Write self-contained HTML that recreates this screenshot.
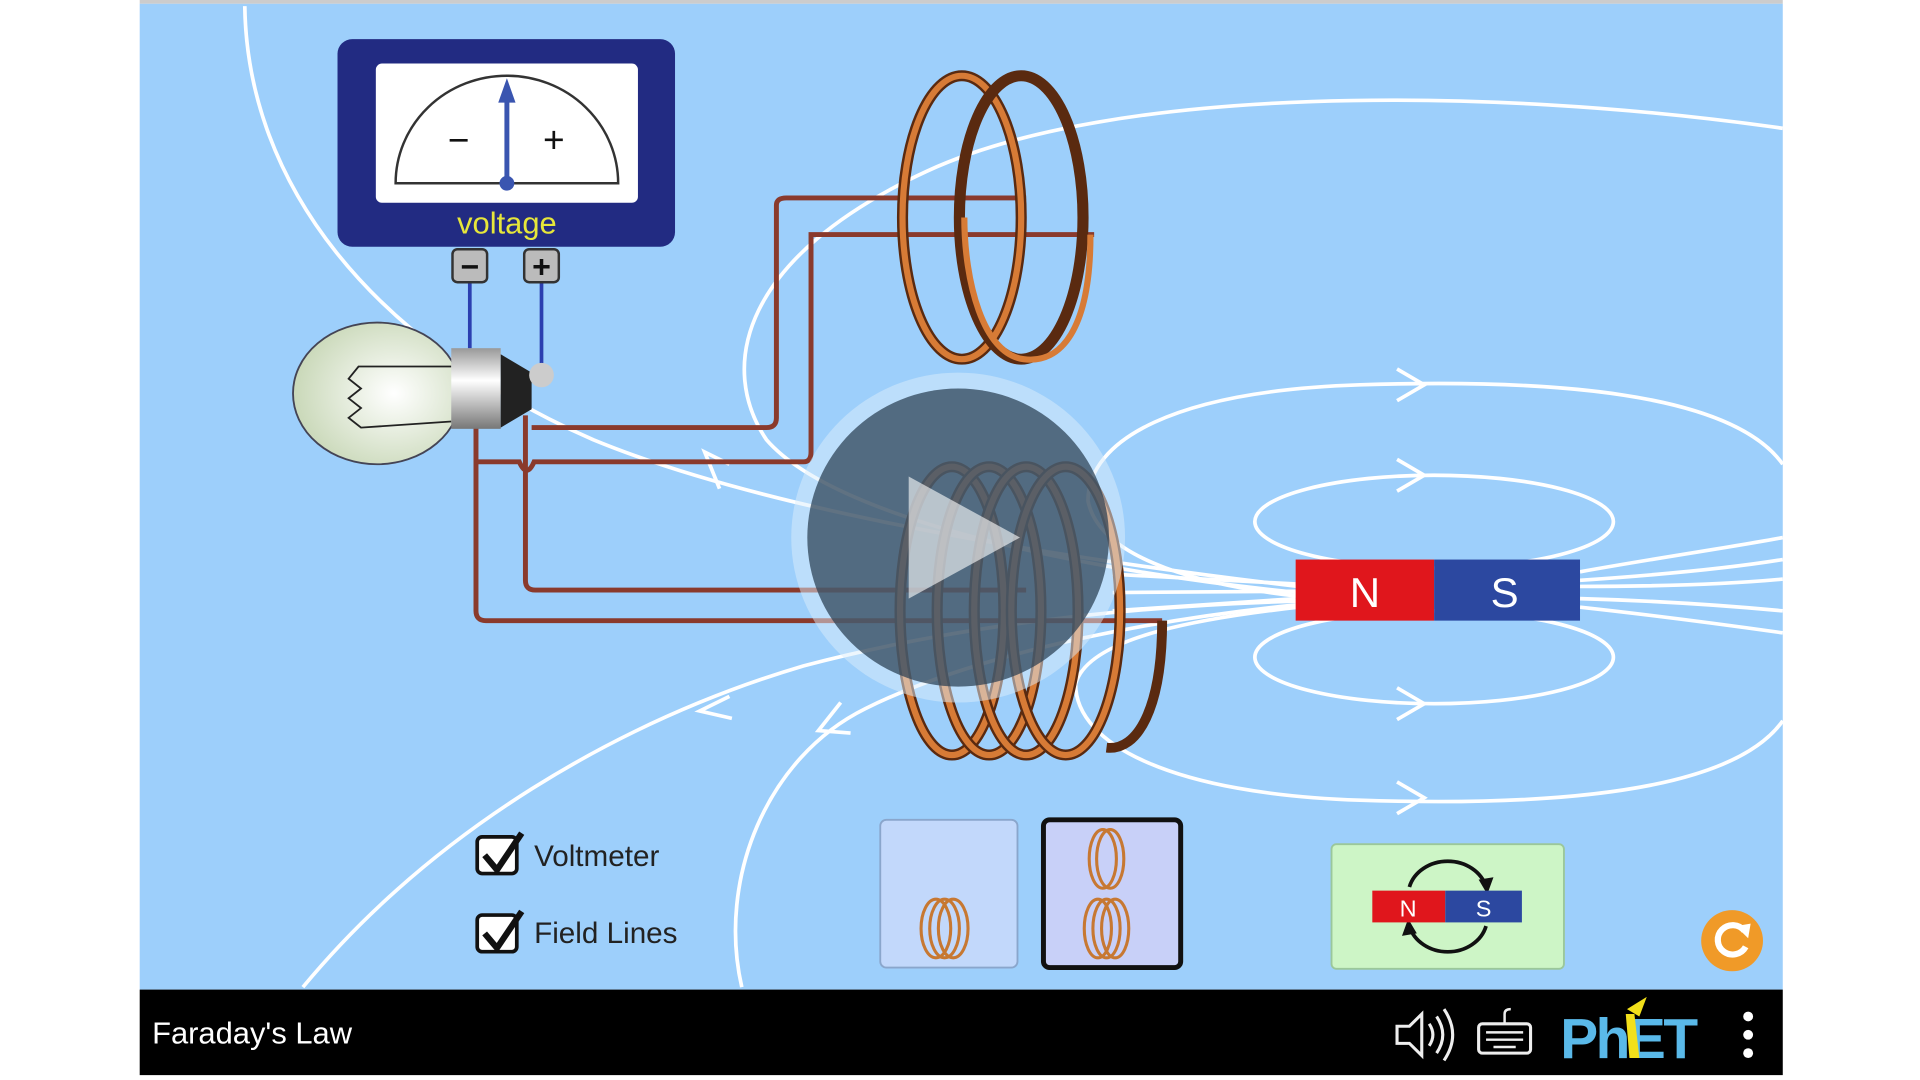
<!DOCTYPE html>
<html><head><meta charset="utf-8"><style>
html,body{margin:0;padding:0;background:#fff;width:1920px;height:1080px;overflow:hidden}
svg{display:block}
text{font-family:"Liberation Sans",sans-serif}
</style></head><body>
<svg width="1920" height="1080" viewBox="0 0 1553 884" preserveAspectRatio="none" xmlns="http://www.w3.org/2000/svg">
<defs>
<radialGradient id="bulb" cx="0.6" cy="0.5" r="0.6"><stop offset="0" stop-color="#ffffff"/><stop offset="1" stop-color="#c9d8b8"/></radialGradient>
<linearGradient id="base" x1="0" y1="0" x2="0" y2="1"><stop offset="0" stop-color="#999"/><stop offset="0.4" stop-color="#fff"/><stop offset="1" stop-color="#777"/></linearGradient>
</defs>
<rect x="113" y="3" width="1329" height="807" fill="#9dcffb"/>
<rect x="113" y="0" width="1329" height="3" fill="#ccc"/>
<g fill="none" stroke="#fff" stroke-width="3">
<path d="M198 5 C200 150 300 280 480 360 C600 410 800 450 1050 480"/>
<path d="M1442 105 C1200 70 900 70 750 140 C600 210 580 300 620 360 C680 430 900 470 1050 485"/>
<ellipse cx="1160" cy="427" rx="145" ry="38"/>
<ellipse cx="1160" cy="538" rx="145" ry="38"/>
<path d="M1442 380 C1400 320 1250 310 1100 315 C950 320 880 360 880 410 C890 460 980 480 1050 488"/>
<path d="M1442 590 C1400 650 1250 660 1100 655 C950 650 870 610 870 560 C880 520 980 505 1050 497"/>
<path d="M245 808 C350 680 500 590 650 545 C800 505 950 495 1050 492"/>
<path d="M600 808 C580 720 620 620 700 580 C800 530 950 505 1050 495"/>
<path d="M1278 475 C1350 470 1400 465 1442 458 M1278 480 C1350 480 1400 478 1442 474 M1278 490 C1350 492 1400 496 1442 500 M1278 497 C1350 505 1400 512 1442 518 M1278 468 C1350 455 1400 448 1442 440"/>
<path d="M900 470 L1048 478 M900 500 L1048 490 M900 485 L1048 484"/>
</g>
<g fill="none" stroke="#fff" stroke-width="3">
<path d="M1130 302 L1152 315 L1130 328"/><path d="M1130 376 L1152 389 L1130 402"/>
<path d="M1130 563 L1152 576 L1130 589"/><path d="M1130 640 L1152 653 L1130 666"/>
<path d="M590 380 L570 370 L582 400"/><path d="M590 570 L566 582 L592 588"/><path d="M680 575 L662 598 L688 600"/>
</g>
<g fill="none" stroke="#8a3a2c" stroke-width="4">
<path d="M430 350 L620 350 Q628 350 628 342 L628 168 Q628 162 636 162 L830 162"/>
<path d="M385 330 L385 500 Q385 508 393 508 L940 508"/>
<path d="M385 378 L420 378 Q426 392 432 378 L650 378 Q656 378 656 370 L656 192 L885 192"/>
<path d="M425 340 L425 475 Q425 483 433 483 L830 483"/>
</g>
<g fill="none" stroke-width="9">
<ellipse cx="778" cy="178" rx="48" ry="116" stroke="#5a2a10"/>
<ellipse cx="778" cy="178" rx="48" ry="116" stroke="#d77b36" stroke-width="5"/>
<ellipse cx="826" cy="178" rx="50" ry="116" stroke="#5a2a10"/>
<path d="M882 192 C882 270 858 298 828 294 C795 290 780 230 780 178" stroke="#d77b36" stroke-width="5"/>
</g>
<g fill="none">
<ellipse cx="770" cy="500" rx="42" ry="118" stroke="#5a2a10" stroke-width="9"/><ellipse cx="770" cy="500" rx="42" ry="118" stroke="#d77b36" stroke-width="5"/>
<ellipse cx="800" cy="500" rx="42" ry="118" stroke="#5a2a10" stroke-width="9"/><ellipse cx="800" cy="500" rx="42" ry="118" stroke="#d77b36" stroke-width="5"/>
<ellipse cx="830" cy="500" rx="42" ry="118" stroke="#5a2a10" stroke-width="9"/><ellipse cx="830" cy="500" rx="42" ry="118" stroke="#d77b36" stroke-width="5"/>
<ellipse cx="862" cy="500" rx="44" ry="118" stroke="#5a2a10" stroke-width="9"/><ellipse cx="862" cy="500" rx="44" ry="118" stroke="#d77b36" stroke-width="5"/>
<path d="M940 508 C940 580 920 615 895 612" stroke="#5a2a10" stroke-width="8"/>
</g>
<circle cx="775" cy="440" r="135" fill="#dceefc" opacity="0.5"/>
<circle cx="775" cy="440" r="122" fill="#2a3f52" opacity="0.72"/>
<path d="M735 390 L825 440 L735 490 Z" fill="#ffffff" opacity="0.6"/>
<rect x="273" y="32" width="273" height="170" rx="12" fill="#222b82"/>
<rect x="304" y="52" width="212" height="114" rx="5" fill="#fff"/>
<path d="M320 150 A90 88 0 0 1 500 150 Z" fill="#fff" stroke="#333" stroke-width="2"/>
<text x="371" y="125" font-size="30" text-anchor="middle" fill="#111">−</text>
<text x="448" y="125" font-size="30" text-anchor="middle" fill="#111">+</text>
<line x1="410" y1="150" x2="410" y2="80" stroke="#3a55b0" stroke-width="4"/>
<path d="M403 84 L410 64 L417 84 Z" fill="#3a55b0"/>
<circle cx="410" cy="150" r="6" fill="#3a55b0"/>
<text x="410" y="191" font-size="25" text-anchor="middle" fill="#e6e63a">voltage</text>
<line x1="380" y1="230" x2="380" y2="285" stroke="#2b3fb0" stroke-width="3"/>
<line x1="438" y1="230" x2="438" y2="305" stroke="#2b3fb0" stroke-width="3"/>
<rect x="366" y="204" width="28" height="27" rx="4" fill="#bbb" stroke="#333" stroke-width="2"/>
<rect x="424" y="204" width="28" height="27" rx="4" fill="#bbb" stroke="#333" stroke-width="2"/>
<text x="380" y="227" font-size="26" text-anchor="middle" font-weight="bold" fill="#111">−</text>
<text x="438" y="227" font-size="26" text-anchor="middle" font-weight="bold" fill="#111">+</text>
<ellipse cx="305" cy="322" rx="68" ry="58" fill="url(#bulb)" stroke="#445" stroke-width="1.5"/>
<path d="M365 300 L290 300 L282 310 L292 318 L282 326 L292 334 L282 342 L292 350 L365 345" fill="none" stroke="#222" stroke-width="1.5"/>
<rect x="365" y="285" width="40" height="66" fill="url(#base)"/>
<path d="M405 290 L430 305 L430 335 L405 350 Z" fill="#222"/>
<circle cx="438" cy="307" r="10" fill="#ccc"/>
<rect x="1048" y="458" width="112" height="50" fill="#e0161c"/>
<rect x="1160" y="458" width="118" height="50" fill="#2c48a0"/>
<text x="1104" y="497" font-size="34" text-anchor="middle" fill="#fff">N</text>
<text x="1217" y="497" font-size="34" text-anchor="middle" fill="#fff">S</text>
<rect x="386" y="685" width="32" height="30" rx="4" fill="#fff" stroke="#111" stroke-width="3"/>
<path d="M392 700 L402 712 L422 682" fill="none" stroke="#111" stroke-width="5"/>
<text x="432" y="709" font-size="24" fill="#222">Voltmeter</text>
<rect x="386" y="749" width="32" height="30" rx="4" fill="#fff" stroke="#111" stroke-width="3"/>
<path d="M392 764 L402 776 L422 746" fill="none" stroke="#111" stroke-width="5"/>
<text x="432" y="772" font-size="24" fill="#222">Field Lines</text>
<rect x="712" y="671" width="111" height="121" rx="5" fill="#c2d8fb" stroke="#8aa6cc" stroke-width="1.5"/>
<g fill="none" stroke="#c77832" stroke-width="2.5">
<ellipse cx="757" cy="760" rx="12" ry="24"/><ellipse cx="764" cy="760" rx="12" ry="24"/><ellipse cx="771" cy="760" rx="12" ry="24"/>
</g>
<rect x="844" y="671" width="111" height="121" rx="5" fill="#c8d0f8" stroke="#111" stroke-width="4"/>
<g fill="none" stroke="#c77832" stroke-width="2.5">
<ellipse cx="892" cy="703" rx="11" ry="24"/><ellipse cx="898" cy="703" rx="11" ry="24"/>
<ellipse cx="888" cy="760" rx="11" ry="24"/><ellipse cx="895" cy="760" rx="11" ry="24"/><ellipse cx="902" cy="760" rx="11" ry="24"/>
</g>
<rect x="1077" y="691" width="188" height="102" rx="4" fill="#cdf5c6" stroke="#9bc79a" stroke-width="1.5"/>
<path d="M1140 726 A32 28 0 0 1 1202 726" fill="none" stroke="#111" stroke-width="3"/>
<path d="M1196 720 L1203 732 L1208 718 Z" fill="#111"/>
<path d="M1202 758 A32 28 0 0 1 1140 758" fill="none" stroke="#111" stroke-width="3"/>
<path d="M1146 764 L1139 752 L1134 766 Z" fill="#111"/>
<rect x="1110" y="729" width="59" height="26" fill="#e0161c"/>
<rect x="1169" y="729" width="62" height="26" fill="#2c48a0"/>
<text x="1139" y="750" font-size="19" text-anchor="middle" fill="#fff">N</text>
<text x="1200" y="750" font-size="19" text-anchor="middle" fill="#fff">S</text>
<circle cx="1401" cy="770" r="25" fill="#f09a28"/>
<path d="M1411 762 A12 12 0 1 0 1412 775" fill="none" stroke="#fff" stroke-width="5"/>
<path d="M1404 758 L1416 756 L1414 768 Z" fill="#fff"/>
<rect x="113" y="810" width="1329" height="70" fill="#000"/>
<text x="123" y="854" font-size="25" fill="#fff">Faraday's Law</text>
<path d="M1130 840 L1140 840 L1150 830 L1150 864 L1140 854 L1130 854 Z" fill="none" stroke="#eee" stroke-width="2.5"/>
<path d="M1156 838 Q1162 847 1156 856 M1162 832 Q1172 847 1162 862 M1168 826 Q1182 847 1168 868" fill="none" stroke="#eee" stroke-width="2.5"/>
<rect x="1196" y="838" width="42" height="24" rx="3" fill="none" stroke="#eee" stroke-width="2.5"/>
<path d="M1202 845 H1232 M1202 851 H1232 M1208 857 H1226 M1217 838 V830 Q1217 826 1222 826" fill="none" stroke="#eee" stroke-width="2"/>
<text x="1262" y="866" font-size="46" font-weight="bold" fill="#5ab9e9" letter-spacing="-2">PhET</text>
<path d="M1315 830 L1318 866 L1326 866 L1322 830 Z" fill="#f2e01a"/>
<path d="M1316 826 L1332 816 L1326 832 Z" fill="#f2e01a"/>
<circle cx="1414" cy="832" r="4" fill="#fff"/><circle cx="1414" cy="847" r="4" fill="#fff"/><circle cx="1414" cy="862" r="4" fill="#fff"/>
</svg>
</body></html>
